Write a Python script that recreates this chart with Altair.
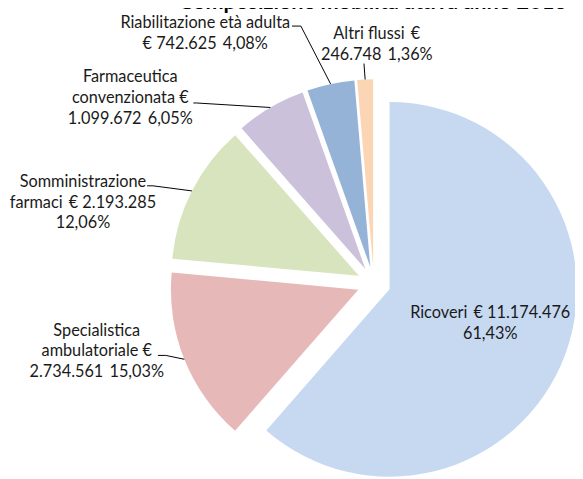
import altair as alt
import pandas as pd

# ---------------- data ----------------
TITLE = "Composizione mobilità attiva anno 2018"
categories = [
    "Ricoveri",
    "Specialistica ambulatoriale",
    "Somministrazione farmaci",
    "Farmaceutica convenzionata",
    "Riabilitazione età adulta",
    "Altri flussi",
]
values_eur = [11174476, 2734561, 2193285, 1099672, 742625, 246748]
colors = ["#C6D9F0", "#E6B9B8", "#D7E4BD", "#CCC1DA", "#95B3D7", "#FCD5B5"]

total = sum(values_eur)
SP2 = " \u2009"  # slightly wider gap, as in the original labels


def eur(v):
    return f"{v:,}".replace(",", ".")


def pct(v):
    return f"{100 * v / total:.2f}".replace(".", ",") + "%"


v = values_eur
label_lines = [
    [f"Ricoveri{SP2}€ {eur(v[0])}", pct(v[0])],
    ["Specialistica", "ambulatoriale €", f"{eur(v[1])}{SP2}{pct(v[1])}"],
    ["Somministrazione", f"farmaci{SP2}€ {eur(v[2])}", pct(v[2])],
    ["Farmaceutica", "convenzionata €", f"{eur(v[3])}{SP2}{pct(v[3])}"],
    ["Riabilitazione età adulta", f"€ {eur(v[4])}{SP2}{pct(v[4])}"],
    [f"Altri flussi{SP2}€", f"{eur(v[5])}{SP2}{pct(v[5])}"],
]

# ---------------- layout ----------------
W, H = 575, 471
CX, CY = 371, 276       # pie centre
R = 190                 # pie radius
EXPLODE = 17            # slice explosion
FONT = "Lato"
label_dx = [118, -281, -295, -247, -171, 3]
label_dy = [30, 48, -103, -209, -264, -253]   # first text line
has_leader = [False, True, True, True, True, True]
elbow_dx = [0, -211, -224, -180, -74, -10]
elbow_dy = [0, 73, -99, -183, -261, -223]
tail = [0, -8, -6, -3, -9, 0]

df = pd.DataFrame({
    "idx": list(range(len(categories))),
    "cat": categories,
    "value": values_eur,
    "label": ["\n".join(l) for l in label_lines],
    "ldx": label_dx,
    "ldy": label_dy,
    "lead": has_leader,
    "edx": elbow_dx,
    "edy": elbow_dy,
    "tail": tail,
})

base = (
    alt.Chart(df)
    .transform_joinaggregate(total="sum(value)")
    .transform_window(cum="sum(value)", sort=[alt.SortField("idx", order="ascending")], frame=[None, 0])
    .transform_calculate(
        t0="2*PI*(datum.cum-datum.value)/datum.total",
        t1="2*PI*datum.cum/datum.total",
        mid="(datum.t0+datum.t1)/2",
        ox=f"{CX}+{EXPLODE}*sin(datum.mid)",
        oy=f"{CY}-{EXPLODE}*cos(datum.mid)",
        sx=f"datum.ox+{R}*sin(datum.mid)",
        sy=f"datum.oy-{R}*cos(datum.mid)",
        lx=f"{CX}+datum.ldx",
        ly=f"{CY}+datum.ldy",
        ex=f"{CX}+datum.edx",
        ey=f"{CY}+datum.edy",
        tx=f"{CX}+datum.edx+datum.tail",
    )
)

pie = base.mark_arc(outerRadius=R).encode(
    theta=alt.Theta("t0:Q", scale=None, stack=None),
    theta2="t1:Q",
    x=alt.X("ox:Q", scale=None, axis=None),
    y=alt.Y("oy:Q", scale=None, axis=None),
    color=alt.Color("cat:N", scale=alt.Scale(domain=categories, range=colors), legend=None),
)

lead = base.transform_filter("datum.lead")
seg1 = lead.mark_rule(color="black", strokeWidth=1).encode(
    x=alt.X("sx:Q", scale=None, axis=None),
    y=alt.Y("sy:Q", scale=None, axis=None),
    x2="ex:Q",
    y2="ey:Q",
)
seg2 = lead.mark_rule(color="black", strokeWidth=1).encode(
    x=alt.X("ex:Q", scale=None, axis=None),
    y=alt.Y("ey:Q", scale=None, axis=None),
    x2="tx:Q",
    y2="ey:Q",
)

labels = base.mark_text(
    font=FONT, fontSize=16.5, color="#1a1a1a", lineBreak="\n", lineHeight=21,
    align="center", baseline="middle",
).encode(
    x=alt.X("lx:Q", scale=None, axis=None),
    y=alt.Y("ly:Q", scale=None, axis=None),
    text="label:N",
)

title = alt.Chart(pd.DataFrame({"t": [TITLE]})).mark_text(
    font=FONT, fontSize=22, fontWeight="bold", color="black", align="center", baseline="alphabetic",
).encode(x=alt.value(370), y=alt.value(-2), text="t:N")

chart = (
    alt.layer(pie, seg1, seg2, labels, title)
    .properties(width=W, height=H, autosize=alt.AutoSizeParams(type="none"), padding=0)
    .configure_view(stroke=None)
)

chart.save("out.html", embed_options={"renderer": "svg", "actions": False})
